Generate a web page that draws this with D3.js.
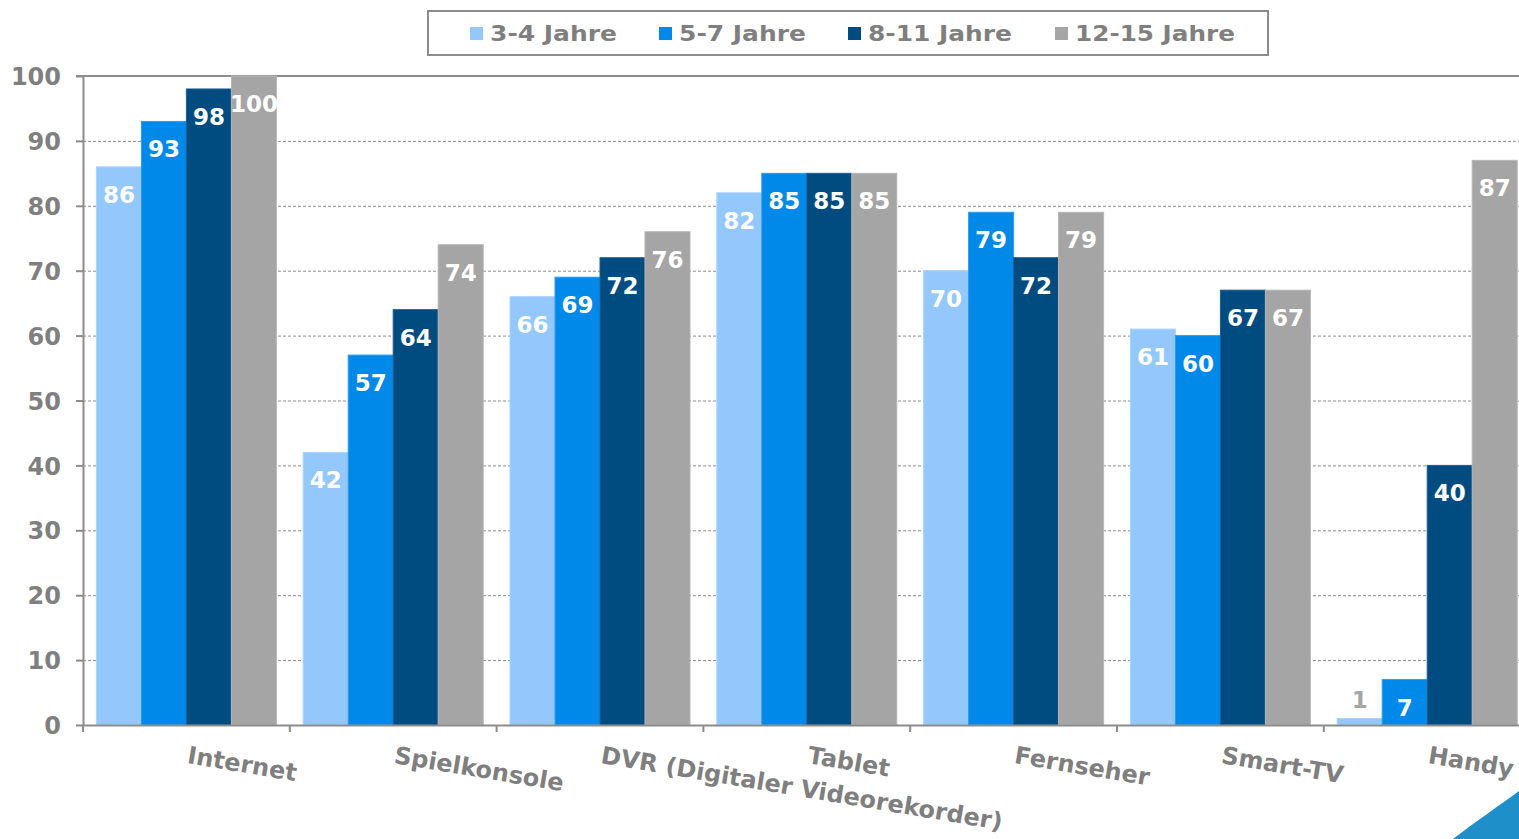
<!DOCTYPE html>
<html>
<head>
<meta charset="utf-8">
<script src="https://cdn.jsdelivr.net/npm/d3@7"></script>
<style>
  html, body { margin: 0; padding: 0; background: #fff; }
  svg { display: block; }
  text { font-family: "DejaVu Sans", Verdana, sans-serif; font-weight: bold; }
</style>
</head>
<body>
<svg id="chart" width="1519" height="839"></svg>
<script>
const categories = ["Internet", "Spielkonsole", "DVR (Digitaler Videorekorder)", "Tablet", "Fernseher", "Smart-TV", "Handy"];
const seriesNames = ["3-4 Jahre", "5-7 Jahre", "8-11 Jahre", "12-15 Jahre"];
const s34 = [86, 42, 66, 82, 70, 61, 1];
const s57 = [93, 57, 69, 85, 79, 60, 7];
const s811 = [98, 64, 72, 85, 72, 67, 40];
const s1215 = [100, 74, 76, 85, 79, 67, 87];
const yTicks = [0, 10, 20, 30, 40, 50, 60, 70, 80, 90, 100];

const seriesValues = [s34, s57, s811, s1215];
const colors = ["#94c8fc", "#0089e8", "#004b80", "#a5a5a5"];
const strokes = ["#a9d3fd", "#2a9bf0", "#1a5e90", "#b6b6b6"];
const gray = "#7f7f7f";

const svg = d3.select("#chart");

const plotLeft = 83, plotBottom = 725, plotTop = 76;
const step = 206.8;
const x0 = d3.scaleBand().domain(categories).range([plotLeft, plotLeft + step * categories.length]).padding(0);
const x1 = d3.scaleBand().domain(seriesNames).range([13.4, 193.4]).padding(0);
const y = d3.scaleLinear().domain([0, 100]).range([plotBottom, plotTop]);

// gridlines
svg.append("g").selectAll("line").data(yTicks.filter(d => d > 0 && d < 100)).join("line")
  .attr("x1", plotLeft).attr("x2", 1519)
  .attr("y1", d => y(d) + 0.5).attr("y2", d => y(d) + 0.5)
  .attr("stroke", "#8c8c8c").attr("stroke-width", 1).attr("stroke-dasharray", "3,2");

// top line
svg.append("line").attr("x1", 76).attr("x2", 1519).attr("y1", y(100)).attr("y2", y(100))
  .attr("stroke", "#8c8c8c").attr("stroke-width", 2);

// bars
const groups = svg.append("g").selectAll("g").data(categories).join("g")
  .attr("transform", d => `translate(${x0(d)},0)`);

groups.each(function(cat, ci) {
  const g = d3.select(this);
  seriesNames.forEach((s, si) => {
    const v = seriesValues[si][ci];
    g.append("rect")
      .attr("x", x1(s)).attr("width", x1.bandwidth())
      .attr("y", y(v)).attr("height", y(0) - y(v))
      .attr("fill", colors[si])
      .attr("stroke", strokes[si]).attr("stroke-width", 1);
  });
});

// value labels
groups.each(function(cat, ci) {
  const g = d3.select(this);
  seriesNames.forEach((s, si) => {
    const v = seriesValues[si][ci];
    const inside = (y(0) - y(v)) > 40;
    g.append("text")
      .attr("x", x1(s) + x1.bandwidth() / 2)
      .attr("y", inside ? y(v) + 36 : y(v) - 11)
      .attr("text-anchor", "middle")
      .attr("font-size", 23)
      .attr("fill", inside ? "#ffffff" : "#a6a6a6")
      .text(v);
  });
});

// axes
const yAxis = d3.axisLeft(y).tickValues(yTicks).tickSize(7).tickSizeOuter(0).tickFormat(d3.format("d"));
const yg = svg.append("g").attr("transform", `translate(${plotLeft},0)`).call(yAxis);
yg.select(".domain").attr("stroke", "#8c8c8c").attr("stroke-width", 2);
yg.selectAll(".tick line").attr("stroke", "#8c8c8c").attr("stroke-width", 2);
yg.selectAll(".tick text").attr("x", -22).attr("dy", "0.36em")
  .attr("font-size", 24).attr("fill", gray).attr("font-family", "DejaVu Sans").attr("font-weight", "bold");

const xAxis = d3.axisBottom(x0).tickSize(0).tickFormat("");
const xg = svg.append("g").attr("transform", `translate(0,${plotBottom})`).call(xAxis);
xg.select(".domain").attr("stroke", "#8c8c8c").attr("stroke-width", 2);
// boundary ticks
svg.append("g").selectAll("line").data(categories).join("line")
  .attr("x1", d => x0(d)).attr("x2", d => x0(d))
  .attr("y1", plotBottom).attr("y2", plotBottom + 7)
  .attr("stroke", "#8c8c8c").attr("stroke-width", 2);

// category labels
svg.append("g").selectAll("text").data(categories).join("text")
  .attr("transform", d => `translate(${x0(d) + x0.bandwidth() / 2},763) rotate(9.5)`)
  .attr("font-size", 24)
  .attr("fill", gray)
  .text(d => d);

// legend
const lg = svg.append("g");
lg.append("rect").attr("x", 428).attr("y", 11).attr("width", 840).attr("height", 44)
  .attr("fill", "#fff").attr("stroke", "#8c8c8c").attr("stroke-width", 2);
const legX = [470, 659, 848, 1055];
const legW = [127, 127, 144, 160];
seriesNames.forEach((s, i) => {
  lg.append("rect").attr("x", legX[i]).attr("y", 27).attr("width", 13).attr("height", 13).attr("fill", colors[i]);
  lg.append("text").attr("x", legX[i] + 20).attr("y", 41)
    .attr("font-size", 22).attr("fill", gray)
    .attr("textLength", legW[i]).attr("lengthAdjust", "spacingAndGlyphs")
    .text(s);
});

// corner decoration
svg.append("path")
  .attr("d", "M1453,839 C1475,822 1500,805 1519,791 L1519,839 Z")
  .attr("fill", "#1e8fc9");
</script>
</body>
</html>
